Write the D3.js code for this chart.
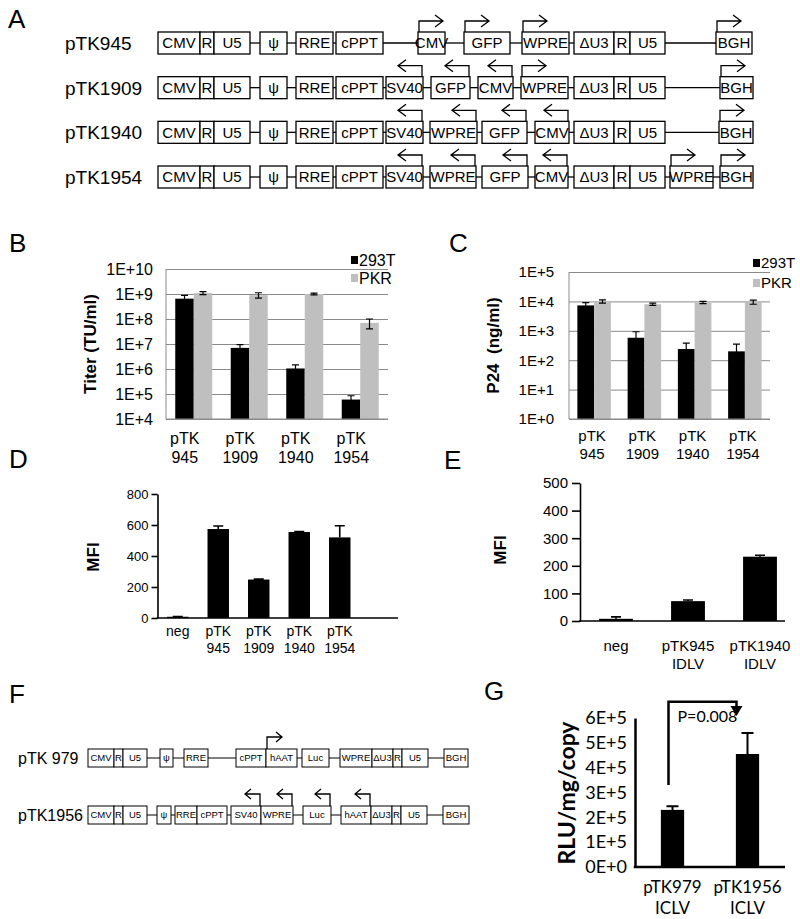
<!DOCTYPE html>
<html lang="en">
<head>
<meta charset="UTF-8">
<title>Vector constructs, titers and expression</title>
<script src="https://d3js.org/d3.v7.min.js"></script>
<style>
  body { margin: 0; background: #fff; }
  svg { font-family: "Liberation Sans", Arial, sans-serif; }
  .box { fill: #fff; stroke: #000; }
  .link { stroke: #000; }
  .arrow { fill: none; stroke: #000; stroke-width: 1.3px; }
  .letter { font-size: 26px; }
</style>
</head>
<body>
<svg id="fig" width="800" height="919"></svg>
<script>
// ---- panel A: construct maps  [label, length, promoter arrow (1 right, -1 left)]; null label = linker
const rowsA = ["pTK945", "pTK1909", "pTK1940", "pTK1954"];
const ltr5A = [["CMV",42],["R",14],["U5",36],[null,10],["ψ",27],[null,9],["RRE",37],[null,3],["cPPT",47]];
const pTK945 = [...ltr5A, [null,35],["CMV",27,1],[null,19],["GFP",46,1],[null,12],["WPRE",47,1],[null,5],
  ["ΔU3",40],["R",16],["U5",35],[null,51],["BGH",36,1]];
const pTK1909 = [...ltr5A, [null,3],["SV40",37,-1],[null,8],["GFP",39,-1],[null,8],["CMV",35,-1],[null,8],["WPRE",47,1],[null,6],
  ["ΔU3",40],["R",16],["U5",35],[null,55],["BGH",33,1]];
const pTK1940 = [...ltr5A, [null,3],["SV40",37,-1],[null,7],["WPRE",47,-1],[null,5],["GFP",45,-1],[null,8],["CMV",34,-1],[null,5],
  ["ΔU3",40],["R",16],["U5",35],[null,54],["BGH",34,1]];
const pTK1954 = [...ltr5A, [null,3],["SV40",37,-1],[null,7],["WPRE",46,-1],[null,6],["GFP",46,-1],[null,7],["CMV",33,-1],[null,6],
  ["ΔU3",40],["R",16],["U5",35],[null,5],["WPRE",43,1],[null,7],["BGH",33,1]];

// ---- panels B, C
const catsBC = ["pTK\n945", "pTK\n1909", "pTK\n1940", "pTK\n1954"];
const seriesBC = ["293T", "PKR"];
const titer293T = [6.5e8, 7e6, 1.05e6, 6e4];
const titer293TErr = [2.3e8, 2.5e6, 4e5, 2.5e4];
const titerPKR = [1.1e9, 9e8, 1.0e9, 7e7];
const titerPKRErr = [1.5e8, 2.2e8, 8e7, 3e7];
const p24_293T = [7.3e3, 5.8e2, 2.4e2, 2.0e2];
const p24_293TErr = [1.8e3, 3.5e2, 1.4e2, 1.5e2];
const p24PKR = [1.0e4, 8e3, 9.2e3, 9.5e3];
const p24PKRErr = [1.3e3, 7e2, 8e2, 1.5e3];

// ---- panels D, E
const catsD = ["neg", "pTK\n945", "pTK\n1909", "pTK\n1940", "pTK\n1954"];
const mfiD = [8, 574, 248, 555, 520];
const mfiDErr = [2, 20, 3, 3, 75];
const catsE = ["neg", "pTK945\nIDLV", "pTK1940\nIDLV"];
const mfiE = [8, 72, 233];
const mfiEErr = [7, 4, 5];

// ---- panel F constructs
const rowsF = ["pTK 979", "pTK1956"];
const pTK979 = [["CMV",26],["R",9],["U5",24],[null,13],["ψ",13],[null,11],["RRE",24],[null,28],["cPPT",30],["hAAT",31,1],[null,5],
  ["Luc",27],[null,11],["WPRE",32],["ΔU3",21],["R",9],["U5",26],[null,16],["BGH",24]];
const pTK1956 = [["CMV",26],["R",9],["U5",24],[null,10],["ψ",14],[null,4],["RRE",22],["cPPT",30],[null,4],["SV40",30,-1],["WPRE",32,-1],
  [null,10],["Luc",28,-1],[null,10],["hAAT",30,-1],["ΔU3",21],["R",9],["U5",26],[null,16],["BGH",26]];

// ---- panel G
const catsG = ["pTK979\nICLV", "pTK1956\nICLV"];
const rluG = [2.3e5, 4.55e5];
const rluGErr = [1.5e4, 8.5e4];
const pValueG = "P=0.008";

const svg = d3.select("#fig");
const gray = "#bfbfbf";

function letter(t, x, y) {
  svg.append("text").attr("class", "letter").attr("x", x).attr("y", y).text(t);
}

function drawConstruct(g, segs, x, top, h, fs, sw, arr) {
  let pos = 0;
  const mid = top + h / 2;
  segs.forEach(([lab, len, dir]) => {
    const x0 = x(pos), x1 = x(pos + len);
    pos += len;
    if (lab === null) {
      g.append("line").attr("class", "link").attr("stroke-width", sw)
        .attr("x1", x0).attr("x2", x1).attr("y1", mid).attr("y2", mid);
      return;
    }
    g.append("rect").attr("class", "box").attr("stroke-width", sw)
      .attr("x", x0).attr("y", top).attr("width", x1 - x0).attr("height", h);
    g.append("text").attr("x", (x0 + x1) / 2).attr("y", mid).attr("dy", "0.36em")
      .attr("text-anchor", "middle").attr("font-size", fs).text(lab);
    if (dir) {
      const sx = dir > 0 ? x0 + arr.inset : x1 - arr.inset;
      const ay = top - arr.rise;
      const tx = sx + dir * arr.len;
      g.append("path").attr("class", "arrow")
        .attr("d", `M${sx},${top}V${ay}H${tx}M${tx - dir * arr.head},${ay - arr.wing}L${tx},${ay}L${tx - dir * arr.head},${ay + arr.wing}`);
    }
  });
}

function twoLine(sel, lines, x, y, lh) {
  lines.forEach((l, i) => sel.append("tspan").attr("x", x).attr("y", y + i * lh).text(l));
}

// ================= A
letter("A", 8, 28);
{
  const g = svg.append("g");
  const x = d3.scaleLinear().domain([0, 600]).range([158, 758]);
  const y = d3.scalePoint().domain(rowsA).range([32, 166]);
  const maps = [pTK945, pTK1909, pTK1940, pTK1954];
  rowsA.forEach((name, i) => {
    g.append("text").attr("x", 65).attr("y", y(name) + 11).attr("dy", "0.36em").attr("font-size", 19).text(name);
    drawConstruct(g, maps[i], x, y(name), 22, 15, 1.3, {inset: 1, rise: 11, len: 24, head: 8, wing: 6});
  });
}

// ================= B, C (log scale grouped bars)
function logBars(cfg) {
  const g = svg.append("g");
  const y = d3.scaleLog().domain(cfg.domain).range(cfg.yr);
  const x0 = d3.scaleBand().domain(catsBC).range(cfg.xr);
  const x1 = d3.scaleBand().domain(seriesBC).range([0, x0.bandwidth()]).paddingOuter(0.5);
  const decades = d3.range(Math.log10(cfg.domain[0]), Math.log10(cfg.domain[1]) + 1).map(e => Math.pow(10, e));
  const w = cfg.xr[1] - cfg.xr[0];

  g.append("g").attr("transform", `translate(${cfg.xr[0]},0)`)
    .call(d3.axisLeft(y).tickValues(decades).tickFormat(d => "1E+" + Math.round(Math.log10(d)))
      .tickSize(-w).tickPadding(cfg.pad))
    .call(a => {
      a.select(".domain").remove();
      a.attr("font-family", null).attr("font-size", cfg.fs);
      a.selectAll(".tick line").attr("stroke", "#8a8a8a");
      a.selectAll("text").attr("fill", "#000");
    });
  g.append("line").attr("x1", cfg.xr[0]).attr("x2", cfg.xr[0]).attr("y1", cfg.yr[0]).attr("y2", cfg.yr[1])
    .attr("stroke", "#8a8a8a");

  const data = [[cfg.s1, cfg.e1], [cfg.s2, cfg.e2]];
  seriesBC.forEach((s, si) => {
    const [vals, errs] = data[si];
    const grp = g.append("g");
    catsBC.forEach((c, i) => {
      const bx = x0(c) + x1(s), bw = x1.bandwidth();
      grp.append("rect").attr("x", bx).attr("y", y(vals[i])).attr("width", bw)
        .attr("height", y(cfg.domain[0]) - y(vals[i])).attr("fill", si ? gray : "#000");
      const cx = bx + bw / 2, hi = y(vals[i] + errs[i]), lo = y(vals[i] - errs[i]);
      grp.append("path").attr("stroke", "#000").attr("stroke-width", 1.2).attr("fill", "none")
        .attr("d", `M${cx},${lo}V${hi}M${cx - 3.5},${hi}H${cx + 3.5}M${cx - 3.5},${lo}H${cx + 3.5}`);
    });
  });
  // baseline
  g.append("line").attr("x1", cfg.xr[0]).attr("x2", cfg.xr[1]).attr("y1", cfg.yr[0]).attr("y2", cfg.yr[0])
    .attr("stroke", "#8a8a8a");

  // category labels
  catsBC.forEach(c => {
    twoLine(g.append("text").attr("font-size", cfg.fs).attr("text-anchor", "middle"),
      c.split("\n"), x0(c) + x0.bandwidth() / 2 + cfg.labDx, cfg.labY, cfg.labLh);
  });

  // legend
  seriesBC.forEach((s, i) => {
    const ly = cfg.legY + i * cfg.legLh;
    g.append("rect").attr("x", cfg.legX).attr("y", ly - 4).attr("width", 7).attr("height", 8)
      .attr("fill", i ? gray : "#000");
    g.append("text").attr("x", cfg.legX + 8).attr("y", ly).attr("dy", "0.36em").attr("font-size", cfg.fs).text(s);
  });

  g.append("text").attr("transform", `translate(${cfg.titleX},${(cfg.yr[0] + cfg.yr[1]) / 2}) rotate(-90)`)
    .attr("text-anchor", "middle").attr("dy", "0.36em").attr("font-weight", "bold").attr("font-size", 17)
    .attr("xml:space", "preserve").text(cfg.title);
}

letter("B", 9, 252);
logBars({domain: [1e4, 1e10], yr: [419, 269], xr: [166, 388], s1: titer293T, e1: titer293TErr, s2: titerPKR, e2: titerPKRErr,
  fs: 16, pad: 13, labDx: -9, labY: 444, labLh: 19, legX: 351, legY: 260, legLh: 18, titleX: 90, title: "Titer (TU/ml)"});

letter("C", 449, 252);
logBars({domain: [1, 1e5], yr: [419, 272], xr: [569, 770], s1: p24_293T, e1: p24_293TErr, s2: p24PKR, e2: p24PKRErr,
  fs: 15, pad: 15, labDx: -2, labY: 441, labLh: 18, legX: 753, legY: 263, legLh: 20, titleX: 493, title: "P24  (ng/ml)"});

// ================= D, E, G (linear bars)
function linBars(cfg) {
  const g = svg.append("g");
  const y = d3.scaleLinear().domain(cfg.domain).range(cfg.yr);
  const x = d3.scaleBand().domain(cfg.cats).range(cfg.xr).paddingInner(cfg.padding).paddingOuter(cfg.padding / 2);

  g.append("g").attr("transform", `translate(${cfg.xr[0]},0)`)
    .call(d3.axisLeft(y).tickValues(cfg.ticks).tickFormat(cfg.fmt).tickSize(cfg.tick).tickSizeOuter(0).tickPadding(cfg.tickPad))
    .call(a => {
      a.attr("font-family", cfg.font).attr("font-size", cfg.fs);
      a.selectAll("text").attr("fill", "#000");
      a.selectAll("line,path").attr("stroke", "#000").attr("stroke-width", cfg.sw);
    });
  g.append("line").attr("x1", cfg.xr[0] - cfg.sw / 2).attr("x2", cfg.xEnd).attr("y1", y(0)).attr("y2", y(0))
    .attr("stroke", "#000").attr("stroke-width", cfg.sw);

  cfg.cats.forEach((c, i) => {
    const bx = x(c), bw = x.bandwidth(), cx = bx + bw / 2;
    g.append("rect").attr("x", bx).attr("y", y(cfg.vals[i])).attr("width", bw)
      .attr("height", y(0) - y(cfg.vals[i])).attr("fill", "#000");
    const hi = y(cfg.vals[i] + cfg.errs[i]);
    g.append("path").attr("stroke", "#000").attr("stroke-width", cfg.errW).attr("fill", "none")
      .attr("d", `M${cx},${y(cfg.vals[i])}V${hi}M${cx - cfg.cap},${hi}H${cx + cfg.cap}`);
    twoLine(g.append("text").attr("font-family", cfg.font).attr("font-size", cfg.labFs).attr("text-anchor", "middle"),
      c.split("\n"), cx, cfg.labY, cfg.labLh);
  });

  g.append("text").attr("transform", `translate(${cfg.titleX},${cfg.titleY}) rotate(-90)`)
    .attr("text-anchor", "middle").attr("dy", "0.36em").attr("font-weight", "bold")
    .attr("font-family", cfg.font).attr("font-size", cfg.titleFs).text(cfg.title);
  return {g, x, y};
}

letter("D", 9, 468);
linBars({cats: catsD, vals: mfiD, errs: mfiDErr, domain: [0, 800], yr: [618, 494], xr: [157.5, 360], xEnd: 398,
  padding: 0.47, ticks: [0, 200, 400, 600, 800], fmt: d3.format("d"), tick: 6, tickPad: 3, fs: 13, sw: 1.6,
  font: "Liberation Sans", errW: 1.6, cap: 5, labFs: 14, labY: 636, labLh: 17,
  titleX: 93, titleY: 557, titleFs: 17, title: "MFI"});

letter("E", 444, 469);
linBars({cats: catsE, vals: mfiE, errs: mfiEErr, domain: [0, 500], yr: [621, 483], xr: [580, 796], xEnd: 785,
  padding: 0.53, ticks: [0, 100, 200, 300, 400, 500], fmt: d3.format("d"), tick: 8, tickPad: 4, fs: 15, sw: 1.6,
  font: "Liberation Sans", errW: 1.6, cap: 5, labFs: 15, labY: 651, labLh: 18,
  titleX: 500, titleY: 550, titleFs: 17, title: "MFI"});

// ================= F
letter("F", 9, 703);
{
  const g = svg.append("g");
  const x = d3.scaleLinear().domain([0, 400]).range([88, 488]);
  const y = d3.scalePoint().domain(rowsF).range([749, 806]);
  const maps = [pTK979, pTK1956];
  rowsF.forEach((name, i) => {
    g.append("text").attr("x", 18).attr("y", y(name) + 9).attr("dy", "0.36em").attr("font-size", 16).text(name);
    drawConstruct(g, maps[i], x, y(name), 18, 9.5, 1, {inset: 1, rise: 12, len: 15, head: 6, wing: 5});
  });
}

// ================= G
letter("G", 484, 700);
{
  const res = linBars({cats: catsG, vals: rluG, errs: rluGErr, domain: [0, 6e5], yr: [867, 718], xr: [635, 785], xEnd: 785,
    padding: 0.69, ticks: d3.range(0, 6e5 + 1, 1e5), fmt: d => d === 0 ? "0E+0" : `${d / 1e5}E+5`, tick: 0, tickPad: 8,
    fs: 18, sw: 2.5, font: "Lato", errW: 2, cap: 6, labFs: 17, labY: 893, labLh: 21,
    titleX: 567, titleY: 793, titleFs: 23, title: "RLU/mg/copy"});
  const {g, x, y} = res;
  const xa = x(catsG[0]) + x.bandwidth() / 2 - 4;
  const xb = x(catsG[1]) + x.bandwidth() / 2 - 11;
  const top = y(6.65e5), tip = y(6.08e5);
  g.append("path").attr("fill", "none").attr("stroke", "#000").attr("stroke-width", 2.5)
    .attr("d", `M${xa},${y(3.3e5)}V${top}H${xb}V${tip - 8}`);
  g.append("path").attr("fill", "#000")
    .attr("d", `M${xb - 6},${tip - 10}L${xb + 6},${tip - 10}L${xb},${tip}Z`);
  g.append("text").attr("x", xa + 9).attr("y", y(5.85e5)).attr("font-family", "Lato").attr("font-size", 16).text(pValueG);
}
</script>
</body>
</html>
